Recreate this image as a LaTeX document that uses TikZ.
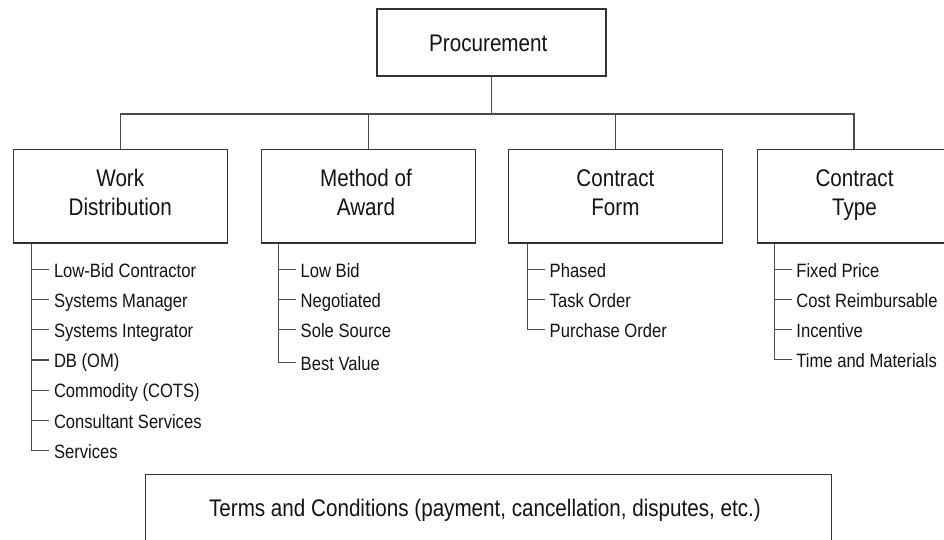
\documentclass[tikz,border=0pt]{standalone}
\usepackage{fontspec}
\setmainfont[FakeStretch=0.86]{Liberation Sans}
\begin{document}
\begin{tikzpicture}[x=1pt,y=-1pt,
  box/.style={draw=black!80, line width=1.2pt, inner sep=0pt},
  conn/.style={draw=black!70, line width=1.2pt},
  ttl/.style={align=center, font=\fontsize{24}{29}\selectfont, text=black!92, inner sep=0pt},
  item/.style={anchor=west, inner xsep=4.5pt, inner ysep=0pt, text height=15.4pt, text depth=0pt, font=\fontsize{19.3}{23}\selectfont, text=black!92}]
\useasboundingbox (0,0) rectangle (944,540);
\clip (0,0) rectangle (944,540);
\fill[white] (0,0) rectangle (944,540);

% boxes
\node[box, minimum width=229pt, minimum height=67pt] (proc) at (491.5,42.5) {};
\node[box, minimum width=214pt, minimum height=93.3pt] (wd) at (120.3,196.35) {};
\node[box, minimum width=214.4pt, minimum height=93.3pt] (ma) at (368.5,196.35) {};
\node[box, minimum width=213.6pt, minimum height=93.3pt] (cf) at (615.5,196.35) {};
\node[box, minimum width=214pt, minimum height=93.3pt] (ct) at (864.7,196.35) {};
\node[box, minimum width=685.6pt, minimum height=85.4pt] (tc) at (488.5,517) {};

% titles (base anchor = baseline of the last line)
\node[ttl, anchor=base] (proct) at (488.3,52) {Procurement};
\node[ttl, anchor=base] (wdt) at (120.3,215) {Work\\Distribution};
\node[ttl, anchor=base] (mat) at (366,215) {Method of\\Award};
\node[ttl, anchor=base] (cft) at (615.4,215) {Contract\\Form};
\node[ttl, anchor=base] (ctt) at (854.5,215) {Contract\\Type};
\node[ttl, anchor=base] (tct) at (485,516.7) {Terms and Conditions (payment, cancellation, disputes, etc.)};

% tree connectors
\coordinate (bus) at (491.7,114);
\coordinate (ctin) at ([xshift=-10.7pt]ct.north);
\draw[conn] (proc.south) -- (proc.south |- bus);
\draw[conn] (wd.north) -- (wd.north |- bus) -- (ctin |- bus) -- (ctin);
\draw[conn] (ma.north |- bus) -- (ma.north);
\draw[conn] (cf.north |- bus) -- (cf.north);

% Work Distribution items
\coordinate (wds) at ([xshift=19pt]wd.south west);
\node[item] (wd1) at (49.3,269.3) {Low-Bid Contractor};
\node[item] (wd2) at (49.3,299.6) {Systems Manager};
\node[item] (wd3) at (49.3,329.8) {Systems Integrator};
\node[item] (wd4) at (49.3,360.0) {DB (OM)};
\node[item] (wd5) at (49.3,390.2) {Commodity (COTS)};
\node[item] (wd6) at (49.3,420.4) {Consultant Services};
\node[item] (wd7) at (49.3,450.7) {Services};
\draw[conn] (wds) |- (wd7.west);
\foreach \i in {1,...,6} \draw[conn] (wds |- wd\i.west) -- (wd\i.west);

% Method of Award items
\coordinate (mas) at ([xshift=17.4pt]ma.south west);
\node[item] (ma1) at (296,269.3) {Low Bid};
\node[item] (ma2) at (296,299.6) {Negotiated};
\node[item] (ma3) at (296,329.8) {Sole Source};
\node[item] (ma4) at (296,362.7) {Best Value};
\draw[conn] (mas) |- (ma4.west);
\foreach \i in {1,...,3} \draw[conn] (mas |- ma\i.west) -- (ma\i.west);

% Contract Form items
\coordinate (cfs) at ([xshift=19pt]cf.south west);
\node[item] (cf1) at (545,269.3) {Phased};
\node[item] (cf2) at (545,299.6) {Task Order};
\node[item] (cf3) at (545,329.5) {Purchase Order};
\draw[conn] (cfs) |- (cf3.west);
\foreach \i in {1,2} \draw[conn] (cfs |- cf\i.west) -- (cf\i.west);

% Contract Type items
\coordinate (cts) at ([xshift=17pt]ct.south west);
\node[item] (ct1) at (791.7,269.3) {Fixed Price};
\node[item] (ct2) at (791.7,299.6) {Cost Reimbursable};
\node[item] (ct3) at (791.7,329.5) {Incentive};
\node[item] (ct4) at (791.7,359.5) {Time and Materials};
\draw[conn] (cts) |- (ct4.west);
\foreach \i in {1,2,3} \draw[conn] (cts |- ct\i.west) -- (ct\i.west);
\end{tikzpicture}
\end{document}
